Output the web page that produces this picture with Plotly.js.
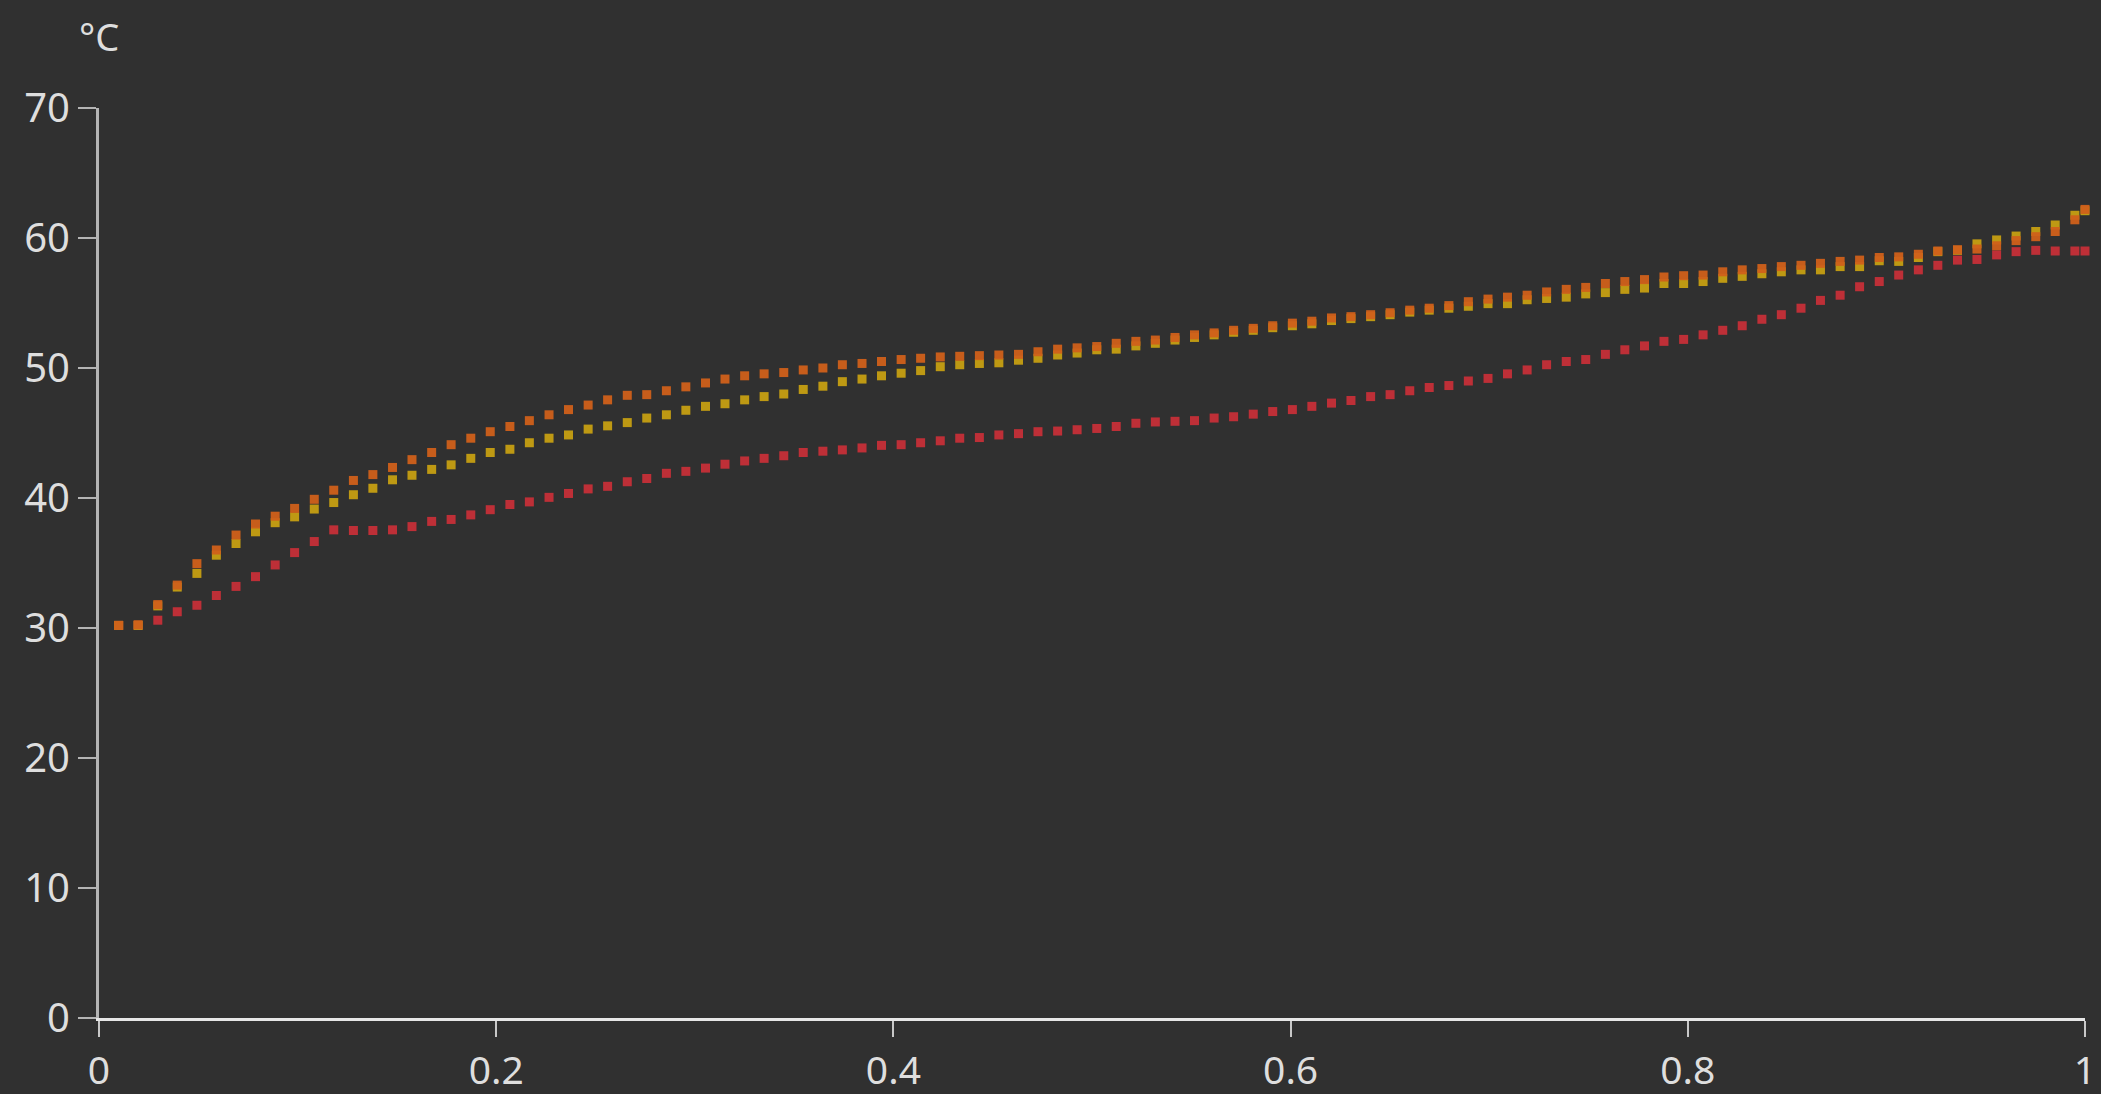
<!DOCTYPE html>
<html>
<head>
<meta charset="utf-8">
<script src="https://cdn.plot.ly/plotly-3.0.1.min.js"></script>
<style>
  html, body { margin: 0; padding: 0; background: #303030; }
  #chart { width: 2101px; height: 1094px; }
</style>
</head>
<body>
<div id="chart"></div>
<script>
// Shared x positions (fraction)
const xValues = [0.0099, 0.0197, 0.0296, 0.0394, 0.0493, 0.0591, 0.069, 0.0788, 0.0887, 0.0985,
  0.1084, 0.1182, 0.1281, 0.1379, 0.1478, 0.1576, 0.1675, 0.1773, 0.1872, 0.197,
  0.2069, 0.2167, 0.2266, 0.2364, 0.2463, 0.2561, 0.266, 0.2758, 0.2857, 0.2955,
  0.3054, 0.3152, 0.3251, 0.3349, 0.3448, 0.3546, 0.3645, 0.3743, 0.3842, 0.394,
  0.4039, 0.4137, 0.4236, 0.4334, 0.4433, 0.4531, 0.463, 0.4728, 0.4827, 0.4925,
  0.5024, 0.5122, 0.5221, 0.5319, 0.5418, 0.5516, 0.5615, 0.5713, 0.5812, 0.591,
  0.6009, 0.6107, 0.6206, 0.6304, 0.6403, 0.6501, 0.66, 0.6698, 0.6797, 0.6895,
  0.6994, 0.7092, 0.7191, 0.7289, 0.7388, 0.7486, 0.7585, 0.7683, 0.7782, 0.788,
  0.7979, 0.8077, 0.8176, 0.8274, 0.8373, 0.8471, 0.857, 0.8668, 0.8767, 0.8865,
  0.8964, 0.9062, 0.9161, 0.9259, 0.9358, 0.9456, 0.9555, 0.9653, 0.9752, 0.985,
  0.9949, 1.0];

// Series values (°C)
const redSeries = [30.2, 30.2, 30.6, 31.25, 31.75, 32.5, 33.2, 33.95, 34.85, 35.8,
  36.65, 37.55, 37.5, 37.5, 37.55, 37.8, 38.2, 38.35, 38.7, 39.1,
  39.5, 39.7, 40.05, 40.35, 40.7, 40.9, 41.25, 41.5, 41.9, 42.05,
  42.3, 42.6, 42.85, 43.05, 43.25, 43.5, 43.6, 43.7, 43.85, 44.05,
  44.1, 44.25, 44.4, 44.6, 44.65, 44.85, 44.95, 45.1, 45.15, 45.25,
  45.35, 45.5, 45.75, 45.85, 45.9, 45.95, 46.15, 46.25, 46.45, 46.65,
  46.8, 47.05, 47.3, 47.5, 47.8, 47.95, 48.25, 48.5, 48.65, 49.0,
  49.2, 49.55, 49.85, 50.25, 50.5, 50.65, 51.05, 51.4, 51.7, 52.05,
  52.2, 52.55, 52.9, 53.25, 53.75, 54.1, 54.6, 55.2, 55.6, 56.25,
  56.65, 57.15, 57.55, 57.9, 58.3, 58.35, 58.7, 58.95, 59.05, 59.0,
  59.0, 59.0];

const yellowSeries = [30.2, 30.2, 31.7, 33.15, 34.2, 35.6, 36.5, 37.4, 38.1, 38.55,
  39.15, 39.65, 40.25, 40.75, 41.4, 41.75, 42.2, 42.55, 43.05, 43.5,
  43.75, 44.25, 44.6, 44.85, 45.3, 45.55, 45.8, 46.15, 46.4, 46.75,
  47.05, 47.25, 47.55, 47.8, 48.0, 48.35, 48.6, 48.95, 49.15, 49.4,
  49.6, 49.8, 50.1, 50.25, 50.35, 50.4, 50.6, 50.75, 51.0, 51.15,
  51.4, 51.45, 51.7, 51.9, 52.15, 52.35, 52.55, 52.75, 52.9, 53.1,
  53.25, 53.4, 53.65, 53.8, 53.95, 54.1, 54.3, 54.45, 54.6, 54.75,
  54.95, 54.95, 55.25, 55.35, 55.45, 55.7, 55.8, 56.05, 56.15, 56.5,
  56.5, 56.65, 56.9, 57.05, 57.25, 57.4, 57.55, 57.55, 57.8, 57.8,
  58.25, 58.2, 58.5, 58.95, 59.05, 59.55, 59.85, 60.15, 60.5, 61.0,
  61.75, 62.1];

const orangeSeries = [30.2, 30.25, 31.8, 33.3, 34.95, 36.0, 37.15, 38.0, 38.6, 39.2,
  39.9, 40.6, 41.35, 41.8, 42.35, 42.95, 43.5, 44.1, 44.6, 45.1,
  45.5, 45.95, 46.4, 46.8, 47.15, 47.55, 47.9, 47.95, 48.25, 48.55,
  48.85, 49.15, 49.4, 49.55, 49.65, 49.85, 50.0, 50.25, 50.35, 50.5,
  50.65, 50.75, 50.85, 50.9, 50.95, 51.0, 51.05, 51.25, 51.45, 51.55,
  51.65, 51.9, 52.05, 52.15, 52.35, 52.55, 52.7, 52.9, 53.05, 53.25,
  53.45, 53.6, 53.85, 53.95, 54.1, 54.25, 54.45, 54.6, 54.8, 55.1,
  55.3, 55.45, 55.6, 55.85, 56.05, 56.2, 56.5, 56.65, 56.8, 57.0,
  57.1, 57.15, 57.4, 57.55, 57.65, 57.8, 57.9, 58.05, 58.2, 58.3,
  58.5, 58.55, 58.75, 59.0, 59.1, 59.15, 59.4, 59.8, 60.1, 60.5,
  61.4, 62.2];

const unitLabel = '°C';

function dots(y, color) {
  return {
    type: 'scatter', mode: 'markers', x: xValues, y: y,
    cliponaxis: false, hoverinfo: 'skip',
    marker: { symbol: 'square', size: 9, color: color, opacity: 0.95, line: { width: 0 } }
  };
}

const data = [
  dots(redSeries, '#c62f38'),
  dots(yellowSeries, '#c69f12'),
  dots(orangeSeries, '#d0601a')
];

const fontFamily = 'Noto Sans, Open Sans, sans-serif';

const layout = {
  width: 2101, height: 1094,
  paper_bgcolor: '#303030', plot_bgcolor: '#303030',
  showlegend: false,
  margin: { l: 99, r: 16, t: 108, b: 76 },
  xaxis: {
    range: [0, 1], dtick: 0.2, tick0: 0,
    showgrid: false, zeroline: false,
    showline: true, linecolor: '#e6e6e6', linewidth: 3,
    ticks: 'outside', ticklen: 16, tickwidth: 2, tickcolor: '#c8c8c8',
    tickfont: { family: fontFamily, size: 39, color: '#dedede' }
  },
  yaxis: {
    range: [0, 70], dtick: 10, tick0: 0,
    showgrid: false, zeroline: false,
    showline: true, linecolor: '#b4b4b4', linewidth: 3,
    ticks: 'outside', ticklen: 18, tickwidth: 2, tickcolor: '#b4b4b4',
    tickfont: { family: fontFamily, size: 40, color: '#dedede' }
  },
  annotations: [{
    text: unitLabel, xref: 'paper', yref: 'paper',
    x: 0, y: 1.079, xanchor: 'center', yanchor: 'middle',
    showarrow: false,
    font: { family: fontFamily, size: 38, color: '#dedede' }
  }]
};

Plotly.newPlot('chart', data, layout, { staticPlot: true, displayModeBar: false });
</script>
</body>
</html>
